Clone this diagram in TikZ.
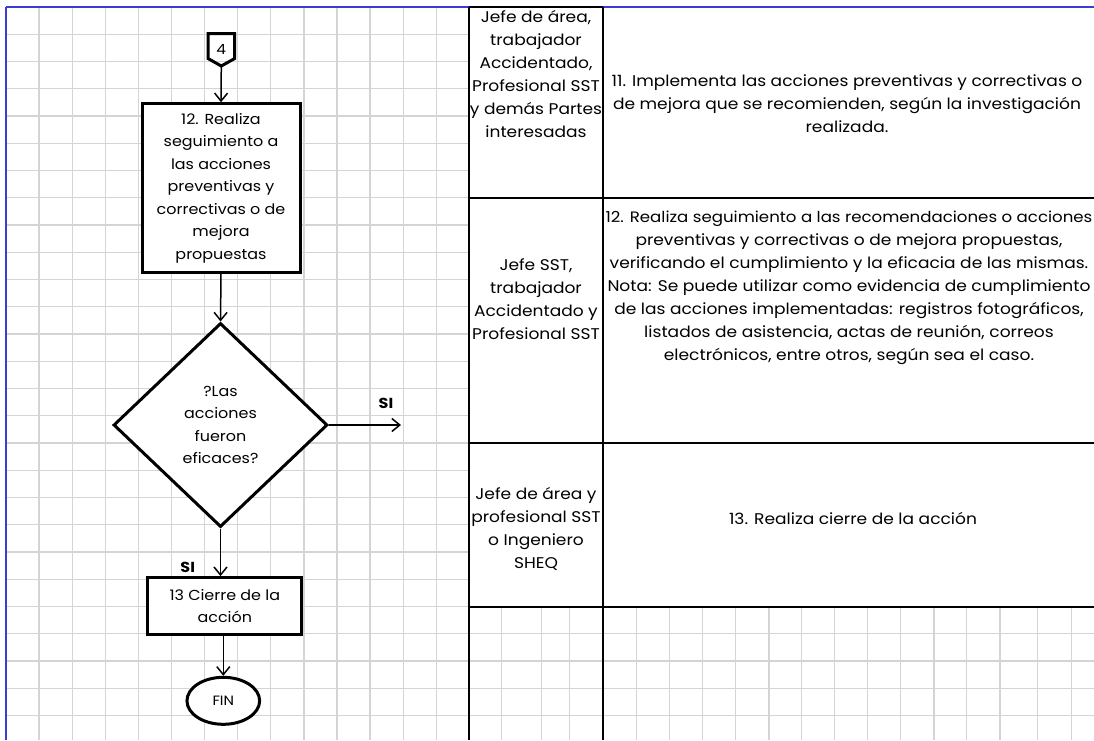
\documentclass[tikz,border=0pt]{standalone}
\usepackage{fontspec}
\setmainfont[FakeStretch=1.1]{Poppins}
\usetikzlibrary{arrows.meta,shapes.geometric}
\definecolor{gridgray}{RGB}{212,212,212}
\definecolor{edgeblue}{RGB}{60,60,210}
\begin{document}
\begin{tikzpicture}[x=1pt,y=-1pt,
  flowtxt/.style={font=\fontsize{14.5}{22.5}\selectfont, align=center},
  procbox/.style={draw, line width=3pt, fill=white, flowtxt, inner sep=0pt},
  decbox/.style={diamond, draw, line width=3pt, fill=white, flowtxt, inner sep=0pt},
  endbox/.style={ellipse, draw, line width=3pt, fill=white, inner sep=0pt, font=\fontsize{13.5}{15}\selectfont},
  conn/.style={line width=1.5pt, -{Straight Barb[length=8pt,width=13pt,line width=1.5pt]}},
  celltxt/.style={font=\fontsize{15.5}{23}\selectfont, align=center, inner sep=0pt},
  silabel/.style={font=\fontsize{14.5}{16}\selectfont\bfseries, inner sep=0pt},
  gridline/.style={gridgray, line width=1.3pt},
  tabline/.style={black, line width=1.8pt},
]
\useasboundingbox (0,0) rectangle (1094,740);
\fill[white] (0,0) rectangle (1094,740);
% grid of the left part
\foreach \k in {1,...,13} \draw[gridline] ({6+33.1*\k},7) -- ({6+33.1*\k},740);
\foreach \k in {1,...,26} \draw[gridline] (6,{7+27.25*\k}) -- (469,{7+27.25*\k});
% grid below the table rows
\foreach \x in {501.7,541.7,569.3,636.7,669.5,702.6,735.8,768.9,801.7,834.8,867.6,900.8,933.9,966.7,1000,1037.3,1071.3}
  \draw[gridline] (\x,606.7) -- (\x,740);
\foreach \y in {633.75,661,688.25,715.5} \draw[gridline] (469,\y) -- (1094,\y);
% outer blue edges
\draw[edgeblue, line width=1.5pt] (6,7) -- (1094,7);
\draw[edgeblue, line width=2pt] (6,7) -- (6,740);
% table lines
\draw[line width=1.5pt] (469,7) -- (603,7);
\draw[line width=1.5pt] (469,7) -- (469,740);
\draw[line width=2.2pt] (603,7) -- (603,740);
\foreach \y in {197.7,442.7,606.7} \draw[tabline] (469,\y) -- (1094,\y);

% flowchart
\node[inner sep=0pt, minimum width=26.7, minimum height=32.5, font=\fontsize{14}{16}\selectfont] (c4) at (221.3,49.5) {4};
\draw[line width=3pt, line join=miter] (208,33.5) -- (234.7,33.5) -- (234.7,58.5) -- (221.3,66) -- (208,58.5) -- cycle;
\node[procbox, minimum width=158, minimum height=168.3] (b12) at (221,187.9)
  {12. Realiza\\seguimiento a\\las acciones\\preventivas y\\correctivas o de\\mejora\\propuestas};
\node[decbox, minimum width=214, minimum height=204] (dia) at (220.5,425)
  {?Las\\acciones\\fueron\\eficaces?};
\node[procbox, minimum width=153.7, minimum height=56.7] (b13) at (224.8,606)
  {13 Cierre de la\\acción};
\node[endbox, minimum width=72.7, minimum height=47] (fin) at (223.3,700.8) {FIN};
\coordinate (siout) at (401,425);

\draw[conn] (c4.south) -- (b12.north);
\draw[conn] (b12.south) -- (dia.north);
\draw[conn] (dia.east) -- (siout);
\draw[conn] (dia.south) -- (dia.south |- b13.north);
\draw[conn] (b13.south -| fin.north) -- (fin.north);
\node[silabel] (si1) at (386,403.3) {SI};
\node[silabel] (si2) at (187.7,567.7) {SI};

% table texts
\node[celltxt] (r1l) at (536,74.5) {Jefe de área,\\trabajador\\Accidentado,\\Profesional SST\\y demás Partes\\interesadas};
\node[celltxt] (r1r) at (847,103.5) {11. Implementa las acciones preventivas y correctivas o\\de mejora que se recomienden, según la investigación\\realizada.};
\node[celltxt] (r2l) at (536,299.5) {Jefe SST,\\trabajador\\Accidentado y\\Profesional SST};
\node[celltxt] (r2r) at (849,288) {{\fontsize{15.1}{23}\selectfont 12. Realiza seguimiento a las recomendaciones o acciones}\\preventivas y correctivas o de mejora propuestas,\\verificando el cumplimiento y la eficacia de las mismas.\\Nota: Se puede utilizar como evidencia de cumplimiento\\de las acciones implementadas: registros fotográficos,\\listados de asistencia, actas de reunión, correos\\electrónicos, entre otros, según sea el caso.};
\node[celltxt] (r3l) at (536,529) {Jefe de área y\\profesional SST\\o Ingeniero\\SHEQ};
\node[celltxt] (r3r) at (853,518) {13. Realiza cierre de la acción};
\end{tikzpicture}
\end{document}
